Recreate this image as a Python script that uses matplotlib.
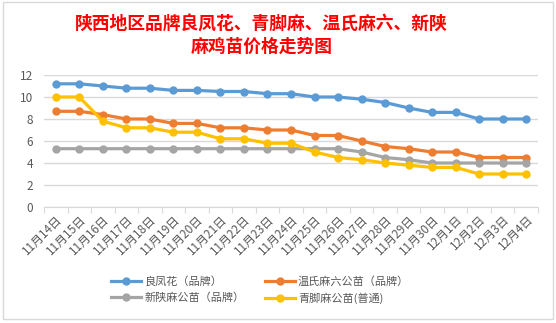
import matplotlib
matplotlib.use('Agg')
import matplotlib.pyplot as plt
from matplotlib.patches import Rectangle

plt.rcParams['font.family'] = ['Noto Sans CJK SC', 'DejaVu Sans']

# dados
datas = [f'11月{d}日' for d in range(14, 31)] + [f'12月{d}日' for d in range(1, 5)]
liangfenghua = [11.2, 11.2, 11.0, 10.8, 10.8, 10.6, 10.6, 10.5, 10.5, 10.3, 10.3,
                10.0, 10.0, 9.8, 9.5, 9.0, 8.6, 8.6, 8.0, 8.0, 8.0]
wenshi = [8.7, 8.7, 8.4, 8.0, 8.0, 7.6, 7.6, 7.2, 7.2, 7.0, 7.0,
          6.5, 6.5, 6.0, 5.5, 5.3, 5.0, 5.0, 4.5, 4.5, 4.5]
xinshan = [5.3, 5.3, 5.3, 5.3, 5.3, 5.3, 5.3, 5.3, 5.3, 5.3, 5.3,
           5.3, 5.3, 5.0, 4.5, 4.3, 4.0, 4.0, 4.0, 4.0, 4.0]
qingjiao = [10.0, 10.0, 7.8, 7.2, 7.2, 6.8, 6.8, 6.2, 6.2, 5.8, 5.8,
            5.0, 4.5, 4.3, 4.0, 3.8, 3.6, 3.6, 3.0, 3.0, 3.0]

series = [
    ('良凤花（品牌）', liangfenghua, '#5B9BD5'),
    ('温氏麻六公苗（品牌）', wenshi, '#ED7D31'),
    ('新陕麻公苗（品牌）', xinshan, '#A5A5A5'),
    ('青脚麻公苗(普通)', qingjiao, '#FFC000'),
]

W, H = 556, 323
fig = plt.figure(figsize=(W / 100, H / 100), dpi=100)
fig.patch.set_facecolor('white')

# borda do gráfico
fig.add_artist(Rectangle((3 / W, 1 - 319 / H), 550 / W, 317 / H, transform=fig.transFigure,
                         fill=False, edgecolor='#D9D9D9', linewidth=1))

ax = fig.add_axes([44 / W, 1 - 207 / H, (538 - 44) / W, (207 - 75) / H])
x = list(range(len(datas)))
linhas = []
for nome, vals, cor in series:
    l, = ax.plot(x, vals, color=cor, linewidth=2.3, marker='o', markersize=5, label=nome)
    linhas.append(l)

ax.set_xlim(-0.5, len(datas) - 0.5)
ax.set_ylim(0, 12)
ax.set_yticks(range(0, 13, 2))
ax.grid(axis='y', color='#D9D9D9', linewidth=1)
ax.set_axisbelow(True)
for s in ['top', 'right', 'left']:
    ax.spines[s].set_visible(False)
ax.spines['bottom'].set_color('#D9D9D9')
ax.tick_params(axis='y', length=0, labelsize=8.5, labelcolor='#595959', pad=8)
ax.set_xticks([i - 0.5 for i in range(len(datas) + 1)], minor=False)
ax.set_xticklabels([])
ax.tick_params(axis='x', which='major', length=4, color='#D9D9D9')
ax.set_xticks(x, minor=True)
ax.set_xticklabels(datas, minor=True, rotation=45, ha='right', rotation_mode='anchor',
                   fontsize=8.5, color='#595959')
ax.tick_params(axis='x', which='minor', length=0, pad=4)

fig.text(0.47, 1 - 36 / H, '陕西地区品牌良凤花、青脚麻、温氏麻六、新陕\n麻鸡苗价格走势图',
         ha='center', va='center', color='#FF0000', fontsize=12.8, fontweight='bold',
         linespacing=1.3)

# ordem da legenda por linha
ordem = [0, 2, 1, 3]
fig.legend([linhas[i] for i in ordem], [series[i][0] for i in ordem],
           loc='center', bbox_to_anchor=(0.468, 1 - 290 / H), ncol=2, frameon=False,
           fontsize=8, labelcolor='#595959', handlelength=2.7, columnspacing=1.8,
           handletextpad=0.3, labelspacing=0.55)

fig.savefig('out.png', dpi=100)
